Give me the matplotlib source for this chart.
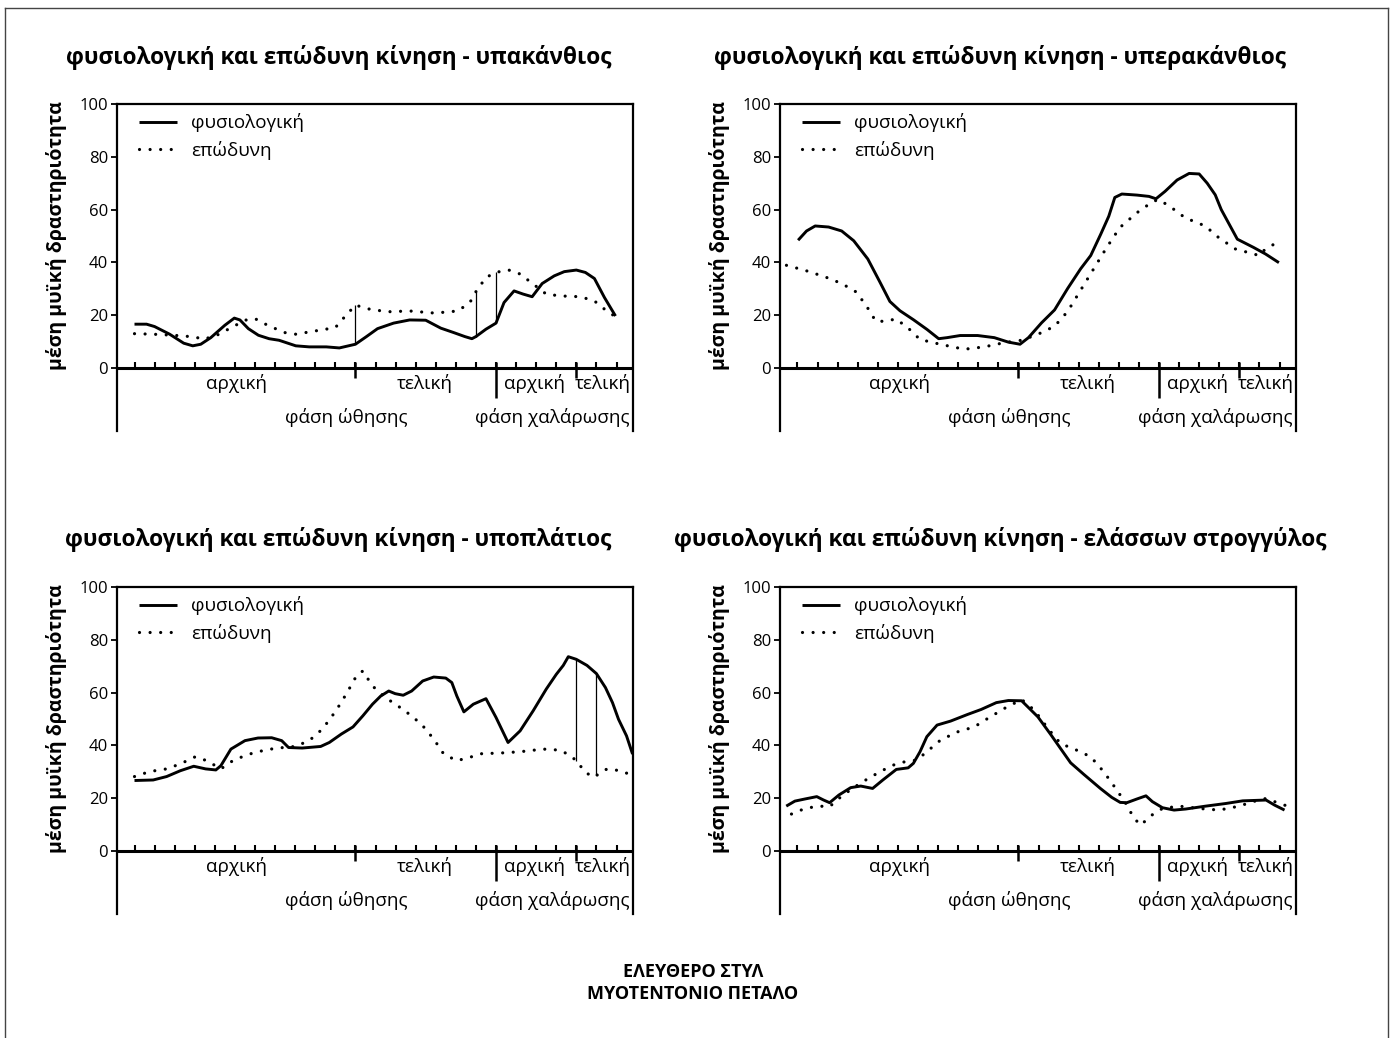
import numpy as np
import matplotlib
matplotlib.use('Agg')
import matplotlib.pyplot as plt
from matplotlib.lines import Line2D

plt.rcParams['font.family'] = ['Open Sans', 'DejaVu Sans']

# ---------------- data ----------------
titles = [
    'φυσιολογική και επώδυνη κίνηση - υπακάνθιος',
    'φυσιολογική και επώδυνη κίνηση - υπερακάνθιος',
    'φυσιολογική και επώδυνη κίνηση - υποπλάτιος',
    'φυσιολογική και επώδυνη κίνηση - ελάσσων στρογγύλος',
]
ylabel_text = 'μέση μυϊκή δραστηριότητα'
legend_labels = ['φυσιολογική', 'επώδυνη']
yticks = [0, 20, 40, 60, 80, 100]
n_ticks = 25
phase_major = [11, 18, 22]
sub_labels = ['αρχική', 'τελική', 'αρχική', 'τελική']
phase_labels = ['φάση ώθησης', 'φάση χαλάρωσης']
footer = ['ΕΛΕΥΘΕΡΟ ΣΤΥΛ', 'ΜΥΟΤΕΝΤΟΝΙΟ ΠΕΤΑΛΟ']

# panel 1 - υπακάνθιος
p1_norm_x = [0, 0.6, 1, 1.75, 2.45, 2.9, 3.3, 3.8, 4.5, 4.97, 5.25, 5.67, 6.17, 6.7, 7.2, 8.03, 8.7, 9.55,
             10.2, 11, 11.55, 12.1, 12.9, 13.7, 14.5, 15.25, 15.9, 16.45, 16.8, 17, 17.5, 18, 18.4, 18.9,
             19.35, 19.8, 20.3, 20.9, 21.4, 22, 22.45, 22.9, 23.4, 23.95]
p1_norm_y = [16.6, 16.6, 15.7, 12.8, 9.4, 8.4, 9.0, 11.5, 16.2, 18.9, 18.2, 14.9, 12.4, 11.1, 10.5, 8.4, 8.0, 8.0,
             7.6, 9.0, 11.9, 14.9, 17.0, 18.2, 18.1, 15.1, 13.4, 11.9, 11.1, 11.9, 14.7, 17.0, 24.8, 29.2,
             28.0, 27.0, 32.0, 34.9, 36.5, 37.1, 36.2, 33.9, 26.7, 19.7]
p1_pain_x = [0, 0.92, 1.95, 2.95, 3.45, 4.1, 4.97, 5.5, 6, 6.7, 7.5, 8.03, 9.05, 10, 10.5, 11, 11.7, 12.6,
             13.7, 14.95, 16.1, 16.7, 17, 17.5, 18, 18.6, 19.2, 19.85, 20.5, 21.2, 22.2, 22.9, 23.4, 23.95]
p1_pain_y = [13.0, 12.8, 12.4, 11.8, 10.9, 12.4, 15.9, 18.1, 18.7, 15.9, 13.4, 12.8, 14.1, 15.3, 19.7, 23.8,
             22.3, 21.3, 21.6, 20.8, 21.6, 24.8, 28.9, 34.3, 36.2, 37.2, 35.6, 31.8, 28.0, 27.3, 27.0, 25.4,
             22.3, 19.4]
p1_links = [11, 17, 18]

# panel 2 - υπερακάνθιος
p2_norm_x = [0.03, 0.45, 0.88, 1.55, 2.2, 2.8, 3.5, 4.1, 4.6, 5.1, 5.77, 6.45, 7.03, 7.45, 8.1, 8.97, 9.8,
             10.5, 11.08, 11.5, 12.15, 12.8, 13.45, 14.1, 14.6, 15.1, 15.5, 15.8, 16.15, 16.9, 17.5, 17.85,
             18.3, 18.9, 19.5, 20, 20.4, 20.8, 21.1, 21.5, 21.9, 22.7, 23.3, 23.97]
p2_norm_y = [48.4, 51.9, 53.8, 53.4, 51.9, 48.2, 41.3, 32.6, 25.2, 21.7, 18.3, 14.6, 11.1, 11.5, 12.3, 12.3,
             11.5, 9.8, 9.0, 11.5, 17.1, 22.0, 30.1, 37.6, 42.6, 50.7, 57.5, 64.6, 65.9, 65.5, 65.0, 64.1,
             66.9, 71.2, 73.7, 73.5, 70.0, 65.6, 60.0, 54.4, 48.8, 45.7, 43.2, 39.9]
p2_pain_x = [-0.55, 0.37, 1.38, 2.2, 2.9, 3.4, 3.9, 4.4, 4.9, 5.5, 6.1, 7.1, 8.3, 9.3, 10.3, 11.15, 11.95,
             12.8, 13.45, 14.1, 14.75, 15.4, 16.05, 16.9, 17.7, 18, 18.65, 19.3, 20.3, 20.97, 21.8, 22.7, 23,
             23.3, 23.9]
p2_pain_y = [38.9, 37.0, 34.5, 32.0, 28.9, 23.9, 17.7, 17.7, 18.6, 15.2, 10.8, 9.0, 7.1, 8.0, 9.6, 10.5, 12.7,
             15.8, 21.4, 29.5, 37.6, 45.7, 53.2, 58.8, 63.1, 63.8, 60.6, 56.9, 53.8, 49.4, 45.1, 43.2, 42.6,
             45.1, 47.6]
p2_links = []

# panel 3 - υποπλάτιος
p3_norm_x = [0, 0.93, 1.6, 2.28, 2.95, 3.54, 4.05, 4.3, 4.8, 5.5, 6.15, 6.83, 7.33, 7.67, 8.35, 9.27, 9.7,
             10.3, 10.88, 11.37, 11.85, 12.26, 12.66, 12.98, 13.38, 13.8, 14.35, 14.9, 15.5, 15.8, 16.05,
             16.4, 16.87, 17.5, 18, 18.6, 19.2, 19.85, 20.5, 21.0, 21.35, 21.6, 22, 22.53, 23, 23.45, 23.8,
             24.1, 24.5, 24.8]
p3_norm_y = [26.7, 26.9, 28.2, 30.4, 32.1, 31.1, 30.7, 32.3, 38.6, 41.8, 42.8, 42.9, 41.8, 39.2, 39.0, 39.6,
             41.1, 44.3, 47.0, 51.2, 55.6, 58.7, 60.6, 59.6, 59.0, 60.6, 64.4, 65.9, 65.5, 63.8, 58.7, 52.7,
             55.6, 57.7, 50.6, 41.1, 45.5, 53.1, 61.3, 66.9, 70.3, 73.6, 72.6, 70.3, 67.2, 61.9, 56.2, 49.9,
             43.6, 36.7]
p3_pain_x = [0, 0.76, 1.6, 2.28, 3.03, 3.6, 4.3, 4.97, 6, 7, 8, 8.7, 9.36, 10.03, 10.54, 11.05, 11.37, 11.85,
             12.5, 13.47, 14.28, 14.9, 15.4, 16.05, 16.7, 17.35, 18, 19.2, 20.35, 21.2, 21.7, 22, 22.45,
             22.87, 23, 23.53, 24.2, 24.8]
p3_pain_y = [28.2, 30.1, 31.1, 33.0, 35.7, 34.2, 31.1, 34.6, 37.4, 38.9, 39.6, 41.8, 46.2, 53.1, 59.4, 66.3,
             68.2, 62.5, 58.1, 53.1, 48.1, 42.4, 36.7, 34.2, 35.5, 37.0, 37.0, 37.6, 38.6, 38.2, 36.1, 34.2,
             29.8, 27.9, 28.6, 31.1, 30.4, 28.6]
p3_links = [22, 23]

# panel 4 - ελάσσων στρογγύλος
p4_norm_x = [-0.56, -0.13, 0.37, 0.96, 1.3, 1.6, 2.06, 2.65, 3.15, 3.74, 4.25, 4.92, 5.51, 5.77, 6.1, 6.44,
             6.95, 7.62, 8.46, 9.14, 9.9, 10.5, 11.16, 11.97, 12.63, 13.1, 13.6, 14.26, 15.08, 15.65, 16.07,
             16.4, 16.9, 17.35, 17.67, 18.17, 18.75, 19.33, 20.33, 21.33, 22.17, 23.33, 23.75, 24.25]
p4_norm_y = [17.0, 18.9, 19.7, 20.6, 19.3, 18.3, 21.2, 24.0, 24.6, 23.7, 26.9, 30.9, 31.5, 33.2, 37.6, 43.3,
             47.7, 49.2, 51.7, 53.6, 56.2, 57.0, 56.9, 50.8, 43.9, 38.8, 33.4, 29.0, 23.7, 20.3, 18.4, 18.3,
             19.7, 20.9, 18.7, 16.4, 15.5, 15.9, 17.0, 18.0, 19.0, 19.3, 17.4, 15.5]
p4_pain_x = [-0.3, 0.37, 1.05, 1.6, 2.06, 2.73, 3.4, 4.1, 4.75, 5.43, 5.93, 6.44, 7.12, 7.96, 8.8, 9.47,
             10.3, 11.16, 11.8, 12.47, 13.1, 13.9, 14.6, 15.25, 15.9, 16.4, 16.75, 17.1, 17.56, 18.17, 19,
             20, 21, 22, 22.67, 23.33, 24, 24.4]
p4_pain_y = [14.0, 16.1, 17.0, 16.8, 19.9, 23.7, 26.9, 30.0, 32.5, 34.0, 34.4, 37.6, 42.0, 45.1, 47.0, 50.2,
             54.0, 57.4, 53.3, 46.4, 40.7, 38.2, 35.7, 30.0, 23.1, 17.4, 12.4, 9.8, 13.2, 16.1, 17.0, 16.1,
             15.5, 17.0, 18.7, 19.9, 18.0, 17.0]
p4_links = []

panels = [
    (p1_norm_x, p1_norm_y, p1_pain_x, p1_pain_y, p1_links),
    (p2_norm_x, p2_norm_y, p2_pain_x, p2_pain_y, p2_links),
    (p3_norm_x, p3_norm_y, p3_pain_x, p3_pain_y, p3_links),
    (p4_norm_x, p4_norm_y, p4_pain_x, p4_pain_y, p4_links),
]

# ---------------- layout (pixels) ----------------
W, H = 1391, 1038
fig = plt.figure(figsize=(W / 100, H / 100), dpi=100)

# (left, right, top, zero, bottom) in pixels
boxes = [
    (117, 633, 104, 368, 431),
    (780, 1296, 104, 368, 431),
    (117, 633, 587, 851, 914),
    (780, 1296, 587, 851, 914),
]
title_pos = [(339, 58), (1000, 58), (338, 540), (1000, 540)]

x0_px, x24_px = 134.5, 616.5
LBL = 13.6

for i, (box, data) in enumerate(zip(boxes, panels)):
    l, r, t, z, b = box
    nx, ny, px, py, links = data
    ax = fig.add_axes([l / W, 1 - b / H, (r - l) / W, (b - t) / H])
    upu = (z - t) / 100.0          # pixels per unit
    ybot = -(b - z) / upu
    ppx = (x24_px - x0_px) / 24.0
    xl = -(x0_px - 117) / ppx
    xr = (633 - x0_px) / ppx
    ax.set_xlim(xl, xr)
    ax.set_ylim(ybot, 100)

    for s in ['top', 'left', 'right']:
        ax.spines[s].set_linewidth(1.6)
    ax.spines['bottom'].set_visible(False)
    ax.axhline(0, color='black', lw=2.2, zorder=3)

    ax.set_xticks([])
    ax.set_yticks(yticks)
    ax.set_yticklabels([str(v) for v in yticks])
    ax.tick_params(axis='y', direction='out', length=4, width=1.3, pad=2.5, labelsize=12)
    ax.set_ylabel(ylabel_text, fontsize=14, fontweight='bold')
    ax.yaxis.set_label_coords((67 - 117) / (r - l), (b - (t + z) / 2) / (b - t))

    # small ticks along the zero line
    ax.vlines(np.arange(n_ticks), 0, 2.3, color='black', lw=1.5, zorder=3)
    ax.vlines([phase_major[0], phase_major[2]], -3.8, 2.3, color='black', lw=1.8, zorder=3)
    ax.vlines([phase_major[1]], -11.5, 2.3, color='black', lw=1.8, zorder=3)

    # data
    ax.plot(nx, ny, color='black', lw=2.1, solid_capstyle='butt', solid_joinstyle='round',
            label=legend_labels[0], zorder=4)
    ax.plot(px, py, color='black', lw=2.3, linestyle=(0, (0.01, 3.3)), dash_capstyle='round',
            label=legend_labels[1], zorder=4)
    for k in links:
        y1 = np.interp(k, nx, ny)
        y2 = np.interp(k, px, py)
        ax.vlines(k, min(y1, y2), max(y1, y2), color='black', lw=0.9, zorder=3)

    # phase labels
    ax.text(5.1, -5.8, sub_labels[0], ha='center', va='center', fontsize=LBL)
    ax.text(14.47, -5.8, sub_labels[1], ha='center', va='center', fontsize=LBL)
    ax.text(19.9, -5.8, sub_labels[2], ha='center', va='center', fontsize=LBL)
    ax.text(24.7, -5.8, sub_labels[3], ha='right', va='center', fontsize=LBL)
    ax.text(10.53, -18.6, phase_labels[0], ha='center', va='center', fontsize=LBL)
    ax.text(24.65, -18.6, phase_labels[1], ha='right', va='center', fontsize=LBL)

    ax.legend(loc='upper left', bbox_to_anchor=(0.043, 0.971), frameon=False, fontsize=LBL,
              handlelength=2.0, handletextpad=0.75, borderpad=0, borderaxespad=0,
              labelspacing=0.45)

    tx, ty = title_pos[i]
    fig.text(tx / W, 1 - ty / H, titles[i], ha='center', va='center', fontsize=16.3, fontweight='bold')

fig.text(693 / W, 1 - 972 / H, footer[0], ha='center', va='center', fontsize=13, fontweight='bold')
fig.text(693 / W, 1 - 994 / H, footer[1], ha='center', va='center', fontsize=13, fontweight='bold')

# outer frame (left, top, right)
fig.add_artist(Line2D([5 / W, 5 / W], [0, 1 - 8 / H], transform=fig.transFigure, color='#444444', lw=1))
fig.add_artist(Line2D([5 / W, 1388 / W], [1 - 8 / H, 1 - 8 / H], transform=fig.transFigure, color='#444444', lw=1))
fig.add_artist(Line2D([1388 / W, 1388 / W], [0, 1 - 8 / H], transform=fig.transFigure, color='#444444', lw=1))

fig.savefig('out.png', dpi=100)
